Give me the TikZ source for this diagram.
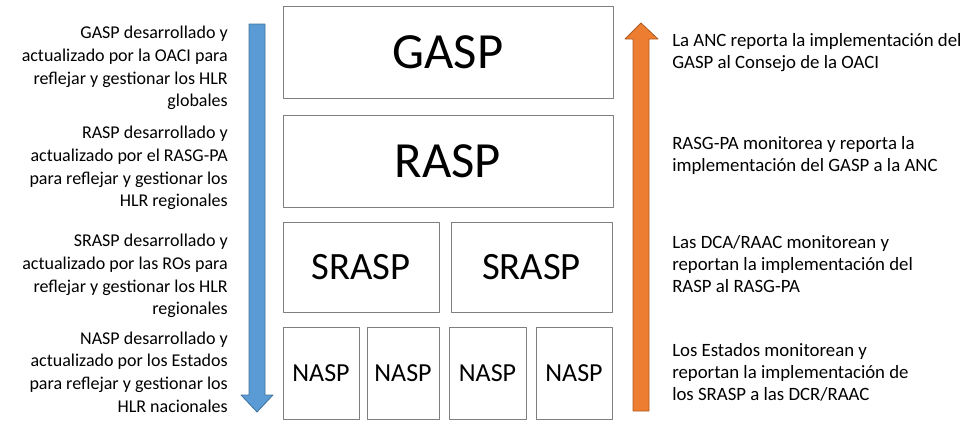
\documentclass[tikz,border=0pt]{standalone}
\usepackage{fontspec}
\setmainfont{Carlito}
\definecolor{downblue}{HTML}{5B9BD5}
\definecolor{downblueline}{HTML}{41719C}
\definecolor{uporange}{HTML}{ED7D31}
\definecolor{uporangeline}{HTML}{AE5A21}
\definecolor{boxgray}{HTML}{7F7F7F}
\tikzset{
  tier/.style={draw=boxgray, line width=.6pt, inner sep=0pt, fill=white},
  lefttext/.style={anchor=east, align=right, inner sep=0pt, font=\fontsize{13.5}{17}\selectfont},
  righttext/.style={anchor=west, align=left, inner sep=0pt, font=\fontsize{14.1}{16.5}\selectfont}
}
\begin{document}
\begin{tikzpicture}[x=.75pt, y=-.75pt, line join=round]
  \useasboundingbox (0,0) rectangle (967,425);
  % flechas
  \draw[fill=downblue, draw=downblueline, line width=.6pt]
    (249,24) -- (265,24) -- (265,395) -- (273,395) -- (257,412) -- (241,395) -- (249,395) -- cycle;
  \draw[fill=uporange, draw=uporangeline, line width=.6pt]
    (633,411) -- (649,411) -- (649,39) -- (658,39) -- (641,23) -- (625,39) -- (633,39) -- cycle;
  % niveles
  \node[tier, minimum width=247.5pt, minimum height=69pt, font=\fontsize{38}{40}\selectfont] (gasp) at (448,52) {GASP};
  \node[tier, minimum width=247.5pt, minimum height=69pt, font=\fontsize{38}{40}\selectfont] (rasp) at (448,161) {RASP};
  \node[tier, minimum width=117pt, minimum height=67.5pt, font=\fontsize{29}{31}\selectfont] (srasp1) at (361,267) {SRASP};
  \node[tier, minimum width=120.75pt, minimum height=67.5pt, font=\fontsize{29}{31}\selectfont] (srasp2) at (531.5,267) {SRASP};
  \node[tier, minimum width=57pt, minimum height=69pt, font=\fontsize{19.5}{21}\selectfont] (nasp1) at (321,373) {NASP};
  \node[tier, minimum width=54pt, minimum height=69pt, font=\fontsize{19.5}{21}\selectfont] (nasp2) at (403,373) {NASP};
  \node[tier, minimum width=57.75pt, minimum height=69pt, font=\fontsize{19.5}{21}\selectfont] (nasp3) at (487.5,373) {NASP};
  \node[tier, minimum width=57pt, minimum height=69pt, font=\fontsize{19.5}{21}\selectfont] (nasp4) at (574,373) {NASP};
  % textos izquierda
  \node[lefttext] (gdev) at (228,68) {GASP desarrollado y\\actualizado por la OACI para\\reflejar y gestionar los HLR\\globales};
  \node[lefttext] (rdev) at (228,168) {RASP desarrollado y\\actualizado por el RASG-PA\\para reflejar y gestionar los\\HLR regionales};
  \node[lefttext] (sdev) at (228,276) {SRASP desarrollado y\\actualizado por las ROs para\\reflejar y gestionar los HLR\\regionales};
  \node[lefttext] (ndev) at (228,372) {NASP desarrollado y\\actualizado por los Estados\\para reflejar y gestionar los\\HLR nacionales};
  % textos derecha
  \node[righttext] (grep) at (672,53) {La ANC reporta la implementación del\\GASP al Consejo de la OACI};
  \node[righttext] (rrep) at (672,155) {RASG-PA monitorea y reporta la\\implementación del GASP a la ANC};
  \node[righttext] (srep) at (672,264) {Las DCA/RAAC monitorean y\\reportan la implementación del\\RASP al RASG-PA};
  \node[righttext] (nrep) at (672,372) {Los Estados monitorean y\\reportan la implementación de\\los SRASP a las DCR/RAAC};
\end{tikzpicture}
\end{document}
